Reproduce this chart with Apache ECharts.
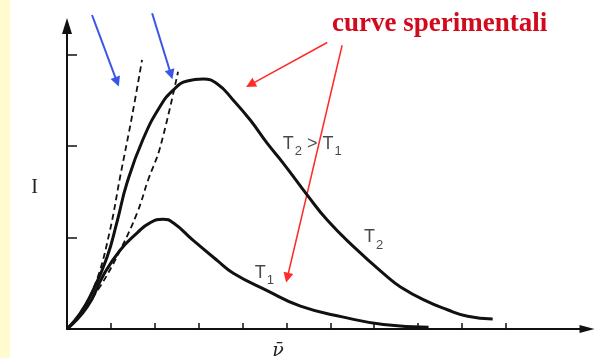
<!DOCTYPE html>
<html>
<head>
<meta charset="utf-8">
<script src="https://cdn.jsdelivr.net/npm/echarts@6/dist/echarts.min.js"></script>
<style>
  html, body { margin: 0; padding: 0; background: #fff; }
  #chart { width: 596px; height: 358px; }
</style>
</head>
<body>
<div id="chart"></div>
<script>
// experimental curves, [nu, I]
const curveT2 = [
  [0, 0], [0.30, 0.17], [0.59, 0.42], [0.91, 0.78], [1.14, 1.17], [1.37, 1.60],
  [1.73, 2.07], [2.12, 2.43], [2.42, 2.61], [2.74, 2.71], [3.10, 2.73], [3.42, 2.68],
  [3.79, 2.50], [4.18, 2.28], [4.56, 2.03], [4.93, 1.81], [5.48, 1.46], [5.93, 1.19],
  [6.53, 0.90], [7.30, 0.57], [7.60, 0.46], [8.12, 0.32], [8.67, 0.21], [9.13, 0.14],
  [9.70, 0.11]
];
const curveT1 = [
  [0, 0], [0.46, 0.24], [0.82, 0.58], [1.21, 0.86], [1.60, 1.05], [1.89, 1.16],
  [2.19, 1.20], [2.42, 1.16], [2.87, 0.97], [3.42, 0.75], [3.79, 0.61], [4.56, 0.42],
  [5.32, 0.25], [6.30, 0.13], [7.21, 0.05], [8.24, 0.02]
];
// classical (dashed) curves
const classicT2 = [[0, 0], [0.30, 0.17], [0.68, 0.54], [0.98, 1.08], [1.21, 1.66], [1.48, 2.32], [1.71, 2.94]];
const classicT1 = [[0, 0], [0.30, 0.17], [0.75, 0.46], [1.21, 0.86], [1.60, 1.27], [1.85, 1.63], [2.12, 1.98], [2.53, 2.81]];

const xTicks = [1, 2, 3, 4, 5, 6, 7, 8, 9, 10];
const yTicks = [1, 2, 3];

const blueArrows = [
  [[0.57, 3.43], [1.14, 2.70]],
  [[1.94, 3.45], [2.37, 2.78]]
];
const redArrows = [
  [[5.93, 3.13], [4.18, 2.67]],
  [[6.27, 3.10], [5.02, 0.56]]
];
const curveLabels = [
  [5.59, 2.02, 'T2 > T1'],
  [6.99, 1.0, 'T2'],
  [4.50, 0.61, 'T1']
];

const chart = echarts.init(document.getElementById('chart'));

const solid = { color: '#111', width: 3 };
const dashed = { color: '#111', width: 1.8, type: [6, 4] };

chart.setOption({
  backgroundColor: '#fff',
  animation: false,
  title: {
    text: 'curve sperimentali',
    left: 332,
    top: 11,
    padding: 0,
    textStyle: { fontFamily: 'Liberation Serif', fontWeight: 'bold', fontSize: 27, color: '#d10a1e' }
  },
  graphic: [
    { type: 'rect', left: 0, top: 0, shape: { width: 10, height: 358 }, style: { fill: '#fffbcf' }, z: -1 }
  ],
  grid: { left: 67, right: 9, top: 26, bottom: 29, containLabel: false, outerBoundsMode: 'none' },
  xAxis: {
    type: 'value',
    min: 0,
    max: 11.85,
    name: 'ν̄',
    nameLocation: 'middle',
    nameGap: 13,
    nameTextStyle: { fontFamily: 'DejaVu Serif', fontStyle: 'italic', fontSize: 19, color: '#222', padding: [0, 98, 0, 0] },
    splitLine: { show: false },
    axisLabel: { show: false },
    axisLine: { lineStyle: { color: '#111', width: 2 }, symbol: ['none', 'triangle'], symbolSize: [8, 15] },
    axisTick: { inside: true, length: 6, customValues: xTicks, lineStyle: { color: '#111', width: 1.5 } }
  },
  yAxis: {
    type: 'value',
    min: 0,
    max: 3.31,
    name: 'I',
    nameLocation: 'middle',
    nameRotate: 0,
    nameGap: 29,
    nameTextStyle: { fontFamily: 'Liberation Serif', fontSize: 20, color: '#222', verticalAlign: 'top', lineHeight: 20 },
    splitLine: { show: false },
    axisLabel: { show: false },
    axisLine: { lineStyle: { color: '#111', width: 2 }, symbol: ['none', 'triangle'], symbolSize: [10, 16] },
    axisTick: { inside: true, length: 10, customValues: yTicks, lineStyle: { color: '#111', width: 1.5 } }
  },
  series: [
    { type: 'line', data: curveT2, smooth: 0.5, showSymbol: false, lineStyle: solid },
    { type: 'line', data: curveT1, smooth: 0.5, showSymbol: false, lineStyle: solid },
    { type: 'line', data: classicT2, smooth: 0.4, showSymbol: false, lineStyle: dashed },
    { type: 'line', data: classicT1, smooth: 0.4, showSymbol: false, lineStyle: dashed },
    {
      type: 'lines', coordinateSystem: 'cartesian2d', clip: false,
      symbol: ['none', 'triangle'], symbolSize: 10,
      lineStyle: { color: '#3a56e8', width: 2, opacity: 1 },
      data: blueArrows.map(c => ({ coords: c }))
    },
    {
      type: 'lines', coordinateSystem: 'cartesian2d', clip: false,
      symbol: ['none', 'triangle'], symbolSize: 10,
      lineStyle: { color: '#ff2a2a', width: 1.5, opacity: 1 },
      data: redArrows.map(c => ({ coords: c }))
    },
    {
      type: 'scatter', symbolSize: 0, clip: false,
      data: curveLabels,
      label: {
        show: true,
        position: 'inside',
        formatter: p => p.value[2].replace(/T(\d)/g, '{t|T}{s|$1}').replace(' > ', '{t| > }'),
        rich: {
          t: { fontFamily: 'Liberation Sans', fontSize: 18, color: '#1a1a1a' },
          s: { fontFamily: 'Liberation Sans', fontSize: 13, color: '#1a1a1a', padding: [15, 0, 0, 1] }
        }
      }
    }
  ]
});
</script>
</body>
</html>
